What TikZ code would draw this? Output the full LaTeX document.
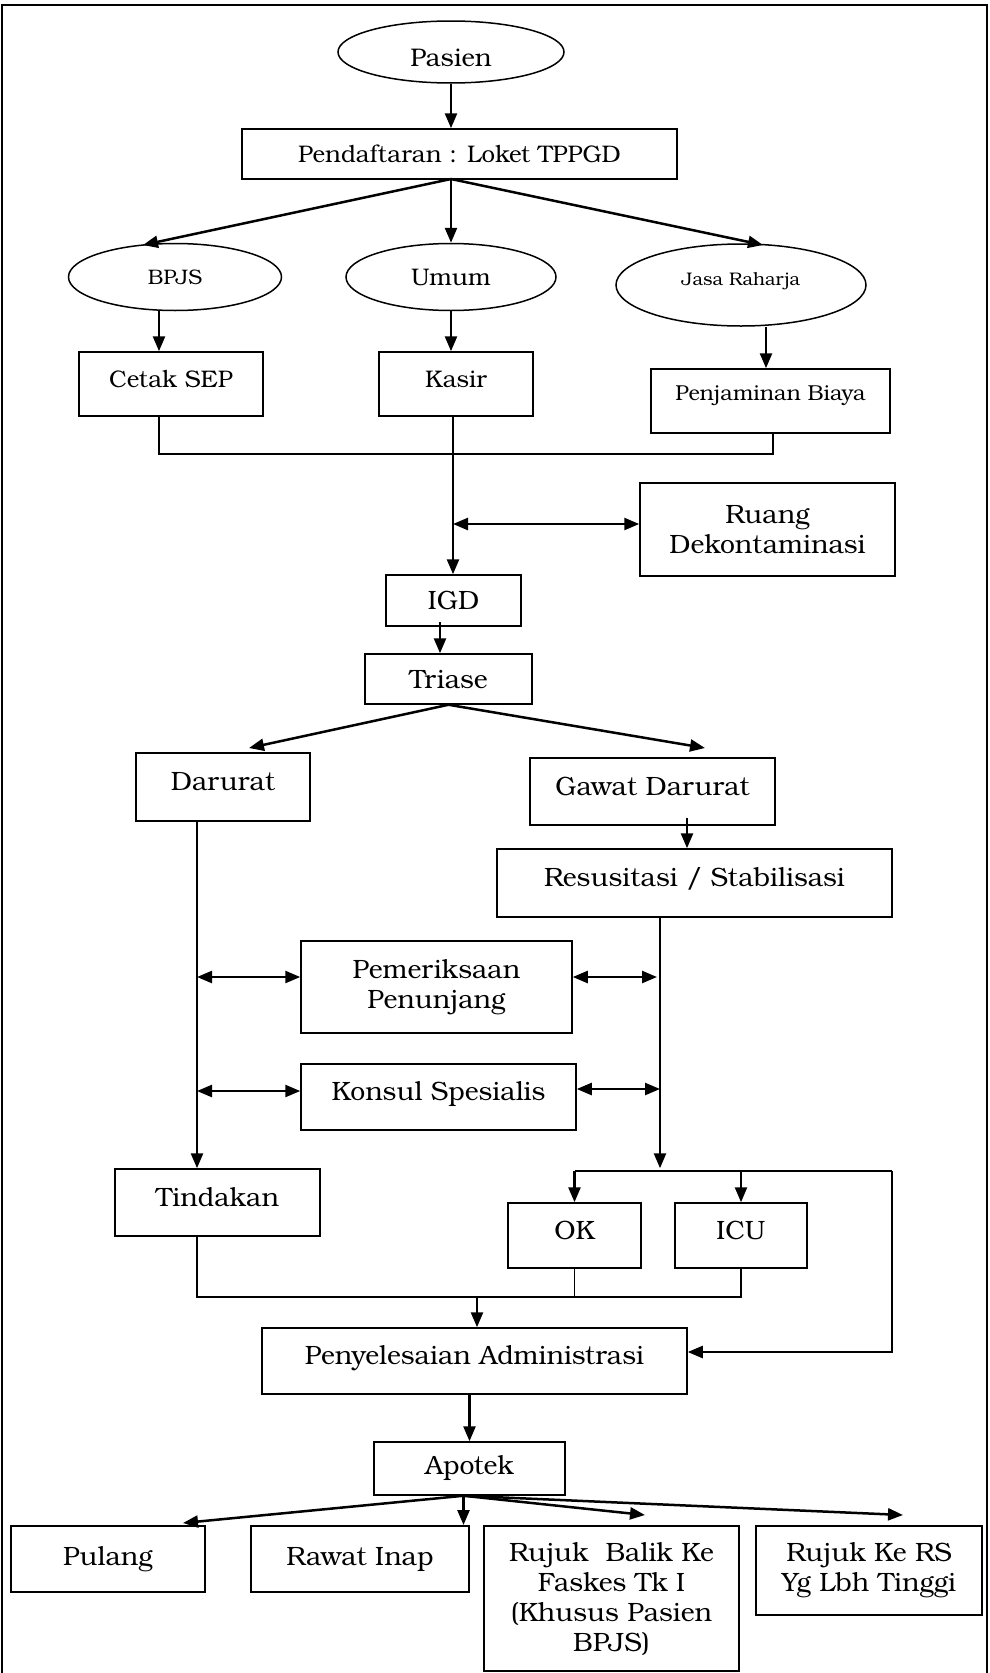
\documentclass[tikz,border=0pt]{standalone}
\usepackage{fontspec}
\setmainfont{texgyrebonum}[Extension=.otf,UprightFont=*-regular,BoldFont=*-bold]
\usetikzlibrary{arrows.meta,shapes.geometric}
\newcommand{\fs}[1]{\fontsize{#1}{30}\selectfont}
\begin{document}
\begin{tikzpicture}[x=1pt,y=-1pt,
    sz/.style 2 args={minimum width=#1pt,minimum height=#2pt},
    box/.style={draw,line width=1.5pt,rectangle,inner sep=0pt,align=center,font=\fs{26.5},text height=20pt,text depth=13pt},
    nat/.style={text height=,text depth=},
    oval/.style={draw,line width=1.5pt,ellipse,inner sep=0pt,font=\fs{24}},
    arr/.style={line width=2.5pt,-{Triangle[length=15pt,width=12pt]}},
    darr/.style={line width=2.5pt,{Triangle[length=15pt,width=12pt]}-{Triangle[length=15pt,width=12pt]}},
    link/.style={line width=1.5pt}]
    \useasboundingbox (0,0) rectangle (990,1673);
    \draw[line width=2pt] (2,1673) -- (2,5) -- (987,5) -- (987,1673);

    \node[oval,sz={226}{62},font=\fs{25.5},text height=30pt] (pasien) at (451,52) {Pasien};
    \node[box,nat,sz={435}{50},font=\fs{24}] (daftar) at (459.5,154) {Pendaftaran : Loket TPPGD};
    \node[oval,sz={213}{67},font=\fs{21}] (bpjs) at (175,277) {BPJS};
    \node[oval,sz={210}{67}] (umum) at (451,277) {Umum};
    \node[oval,sz={250}{82},font=\fs{18.2},text depth=13pt] (jasa) at (741,285) {Jasa Raharja};
    \node[box,sz={184}{64},font=\fs{24}] (sep) at (171,384) {Cetak SEP};
    \node[box,sz={154}{64},font=\fs{24}] (kasir) at (456,384) {Kasir};
    \node[box,sz={239}{64},font=\fs{21.6},text height=16pt,text depth=18pt] (biaya) at (770.5,401) {Penjaminan Biaya};
    \node[box,nat,sz={255}{93}] (ruang) at (767.5,529.5) {Ruang\\Dekontaminasi};
    \node[box,nat,sz={135}{51}] (igd) at (453.5,600.5) {IGD};
    \node[box,nat,sz={167}{50}] (triase) at (448.5,679) {Triase};
    \node[box,sz={174}{68}] (darurat) at (223,787) {Darurat};
    \node[box,sz={245}{67}] (gawat) at (652.5,791.5) {Gawat Darurat};
    \node[box,sz={395}{68}] (resus) at (694.5,883) {Resusitasi / Stabilisasi};
    \node[box,nat,sz={271}{92}] (periksa) at (436.5,987) {Pemeriksaan\\Penunjang};
    \node[box,sz={275}{66}] (konsul) at (438.5,1097) {Konsul Spesialis};
    \node[box,sz={205}{67}] (tindakan) at (217.5,1202.5) {Tindakan};
    \node[box,sz={133}{65}] (ok) at (574.5,1235.5) {OK};
    \node[box,sz={132}{65}] (icu) at (741,1235.5) {ICU};
    \node[box,sz={425}{66}] (admin) at (474.5,1361) {Penyelesaian Administrasi};
    \node[box,nat,sz={191}{53}] (apotek) at (469.5,1468.5) {Apotek};
    \node[box,nat,sz={194}{66}] (pulang) at (108,1559) {Pulang};
    \node[box,nat,sz={218}{66}] (inap) at (360,1559) {Rawat Inap};
    \node[box,nat,sz={255}{145}] (balik) at (611.5,1598.5) {Rujuk\ \ Balik Ke\\Faskes Tk I\\(Khusus Pasien\\BPJS)};
    \node[box,nat,sz={226}{89}] (rujuk) at (869,1570.5) {Rujuk Ke RS\\Yg Lbh Tinggi};

    \coordinate (ds) at (451,179);
    \coordinate (tbpjs) at (143,245);
    \coordinate (tjasa) at (763,245);
    \coordinate (g1) at (440,622);
    \coordinate (t1) at (249,748);
    \coordinate (t2) at (705,748);
    \coordinate (g2) at (687,818);
    \coordinate (d1) at (197,821);
    \coordinate (s1) at (660,917);
    \coordinate (lperiksa) at (197,977);
    \coordinate (rperiksa) at (657,977);
    \coordinate (lkonsul) at (197,1091);
    \coordinate (rkonsul) at (660,1089);
    \coordinate (split) at (892,1171);
    \coordinate (join) at (477,1297);
    \coordinate (e1) at (183,1523);
    \coordinate (e2) at (463.5,1525);
    \coordinate (e3) at (645,1515);
    \coordinate (e4) at (903,1515);

    \draw[arr] (pasien.south) -- (pasien.south |- daftar.north);
    \draw[arr] (ds) -- (tbpjs);
    \draw[arr] (ds) -- (ds |- umum.north);
    \draw[arr] (ds) -- (tjasa);
    \draw[arr] ([xshift=-12pt]sep.north |- bpjs.south) -- ([xshift=-12pt]sep.north);
    \draw[arr] (umum.south) -- (umum.south |- kasir.north);
    \draw[arr] ([xshift=-4.5pt]biaya.north |- jasa.south) -- ([xshift=-4.5pt]biaya.north);
    \draw[link] ([xshift=-12pt]sep.south) -- ++(0,37) -| ([xshift=2.5pt]biaya.south);
    \draw[arr] ([xshift=-3pt]kasir.south) -- ([xshift=-3pt]kasir.south |- igd.north);
    \draw[darr] ([xshift=-3pt,yshift=5.5pt]kasir.south |- ruang.west) -- ([yshift=5.5pt]ruang.west);
    \draw[arr] (g1) -- (g1 |- triase.north);
    \draw[arr] (triase.south) -- (t1);
    \draw[arr] (triase.south) -- (t2);
    \draw[arr] (g2) -- (g2 |- resus.north);
    \draw[arr] (d1) -- (d1 |- tindakan.north);
    \draw[arr] (s1) -- (s1 |- tindakan.north);
    \foreach \n in {periksa,konsul}{
        \draw[darr] (l\n) -- (l\n -| \n.west);
        \draw[darr] (r\n -| \n.east) -- (r\n);
    }
    \draw[link] (split -| ok.north) -- (split);
    \draw[arr] (split -| ok.north) -- (ok.north);
    \draw[arr] (split -| icu.north) -- (icu.north);
    \draw[arr] (split) |- ([yshift=9pt]admin.east);
    \draw[link] ([xshift=-20.5pt]tindakan.south) |- (join -| icu.south) -- (icu.south);
    \draw[link] (ok.south) -- (ok.south |- join);
    \draw[arr] (join) -- (join |- admin.north);
    \draw[arr] (apotek.north |- admin.south) -- (apotek.north);
    \foreach \e in {e1,e2,e3,e4}
        \draw[arr] ([xshift=-6pt]apotek.south) -- (\e);
\end{tikzpicture}
\end{document}
